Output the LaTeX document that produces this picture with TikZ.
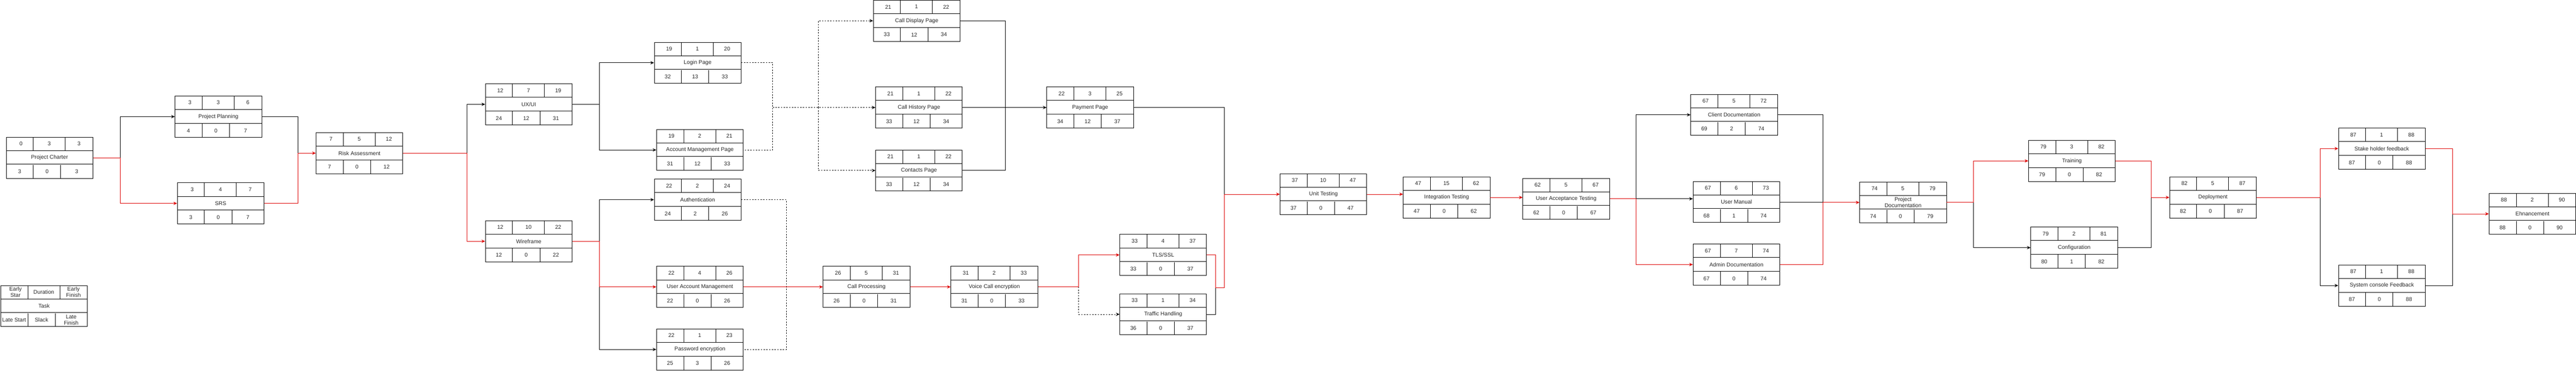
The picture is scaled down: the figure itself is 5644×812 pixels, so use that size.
\documentclass[tikz,border=0pt]{standalone}
\usepackage{fontspec}
\setmainfont{Liberation Sans}
\usetikzlibrary{calc,arrows.meta}

\definecolor{critred}{RGB}{221,0,0}

\tikzset{
  taskbox/.style={draw, line width=1pt, minimum width=190pt, minimum height=90pt, anchor=north west, inner sep=0pt},
  cell/.style={line width=1pt},
  num/.style={font=\fontsize{12}{14}\selectfont, text=black!85, align=center, inner sep=0pt},
  crit/.style={draw=critred, line width=1pt},
  plain/.style={draw=black, line width=1pt},
  lag/.style={draw=black, line width=1pt, dash pattern=on 3pt off 3pt},
  >={Stealth[length=8pt,width=7pt]}
}

% box: name, top-left, ES, duration, EF, task, LS, slack, LF
\newcommand{\pertbox}[9]{%
  \node[taskbox] (#1) at #2 {};
  \draw[cell] ($(#1.north west)+(0,30)$) -- ($(#1.north east)+(0,30)$);
  \draw[cell] ($(#1.north west)+(0,60)$) -- ($(#1.north east)+(0,60)$);
  \draw[cell] ($(#1.north west)+(60,0)$) -- ++(0,30);
  \draw[cell] ($(#1.north west)+(130,0)$) -- ++(0,30);
  \draw[cell] ($(#1.south west)+(60,0)$) -- ++(0,-30);
  \draw[cell] ($(#1.south west)+(120,0)$) -- ++(0,-30);
  \node[num] (#1-es) at ($(#1.north west)+(33,15)$) {#3};
  \node[num] (#1-du) at ($(#1.north west)+(95,15)$) {#4};
  \node[num] (#1-ef) at ($(#1.north west)+(160,15)$) {#5};
  \node[num] (#1-nm) at (#1.center) {#6};
  \node[num] (#1-ls) at ($(#1.south west)+(30,-15)$) {#7};
  \node[num] (#1-sl) at ($(#1.south west)+(90,-15)$) {#8};
  \node[num] (#1-lf) at ($(#1.south west)+(155,-15)$) {#9};
}

\begin{document}
\begin{tikzpicture}[x=1pt,y=-1pt]
\useasboundingbox (0,0) rectangle (5644,812);

\pertbox{key}{(1,625)}{Early\\Star}{Duration}{Early\\Finish}{Task}{Late Start}{Slack}{Late\\Finish}

\pertbox{pc}{(13,300)}{0}{3}{3}{Project Charter}{3}{0}{3}
\pertbox{pp}{(383,210)}{3}{3}{6}{Project Planning}{4}{0}{7}
\pertbox{srs}{(388,400)}{3}{4}{7}{SRS}{3}{0}{7}
\pertbox{ra}{(692,290)}{7}{5}{12}{Risk Assessment}{7}{0}{12}
\pertbox{ux}{(1063,183)}{12}{7}{19}{UX/UI}{24}{12}{31}
\pertbox{wf}{(1063,483)}{12}{10}{22}{Wireframe}{12}{0}{22}
\pertbox{lp}{(1433,92)}{19}{1}{20}{Login Page}{32}{13}{33}
\pertbox{amp}{(1438,283)}{19}{2}{21}{Account Management Page}{31}{12}{33}
\pertbox{auth}{(1433,392)}{22}{2}{24}{Authentication}{24}{2}{26}
\pertbox{uam}{(1438,583)}{22}{4}{26}{User Account Management}{22}{0}{26}
\pertbox{pe}{(1438,720)}{22}{1}{23}{Password encryption}{25}{3}{26}
\pertbox{cdp}{(1913,0)}{21}{1}{22}{Call Display Page}{33}{12}{34}
\pertbox{chp}{(1918,190)}{21}{1}{22}{Call History Page}{33}{12}{34}
\pertbox{cp}{(1918,328)}{21}{1}{22}{Contacts Page}{33}{12}{34}
\pertbox{pay}{(2293,190)}{22}{3}{25}{Payment Page}{34}{12}{37}
\pertbox{proc}{(1803,583)}{26}{5}{31}{Call Processing}{26}{0}{31}
\pertbox{vce}{(2083,583)}{31}{2}{33}{Voice Call encryption}{31}{0}{33}
\pertbox{tls}{(2453,513)}{33}{4}{37}{TLS/SSL}{33}{0}{37}
\pertbox{th}{(2453,643)}{33}{1}{34}{Traffic Handling}{36}{0}{37}
\pertbox{ut}{(2804,380)}{37}{10}{47}{Unit Testing}{37}{0}{47}
\pertbox{it}{(3074,387)}{47}{15}{62}{Integration Testing}{47}{0}{62}
\pertbox{uat}{(3336,390)}{62}{5}{67}{User Acceptance Testing}{62}{0}{67}
\pertbox{cd}{(3704,206)}{67}{5}{72}{Client Documentation}{69}{2}{74}
\pertbox{um}{(3709,397)}{67}{6}{73}{User Manual}{68}{1}{74}
\pertbox{ad}{(3709,534)}{67}{7}{74}{Admin Documentation}{67}{0}{74}
\pertbox{pd}{(4074,398)}{74}{5}{79}{Project\\Documentation}{74}{0}{79}
\pertbox{tr}{(4444,307)}{79}{3}{82}{Training}{79}{0}{82}
\pertbox{conf}{(4449,497)}{79}{2}{81}{Configuration}{80}{1}{82}
\pertbox{dep}{(4753,387)}{82}{5}{87}{Deployment}{82}{0}{87}
\pertbox{shf}{(5123,280)}{87}{1}{88}{Stake holder feedback}{87}{0}{88}
\pertbox{scf}{(5123,580)}{87}{1}{88}{System console Feedback}{87}{0}{88}
\pertbox{enh}{(5453,423)}{88}{2}{90}{Ehnancement}{88}{0}{90}

% forks
\coordinate (f1) at (263,0);
\coordinate (f2) at (653,0);
\coordinate (f3) at (1023,0);
\coordinate (f4) at (1313,0);
\coordinate (f5) at (1693,0);
\coordinate (f6) at (1793,0);
\coordinate (f7) at (1723,0);
\coordinate (f8) at (2203,0);
\coordinate (f9) at (2363,0);
\coordinate (m1) at (2663,630);
\coordinate (m2) at (2683,630);
\coordinate (f10) at (3584,0);
\coordinate (f11) at (3994,0);
\coordinate (f12) at (4324,0);
\coordinate (f13) at (4713,0);
\coordinate (f14) at (5083,0);
\coordinate (f15) at (5373,0);

\draw[plain,->] (pc.east -| f1) |- (pp.west);
\draw[crit,->] (pc.east) -- (pc.east -| f1) |- (srs.west);
\draw[plain] (pp.east) -| (f2 |- ra.west);
\draw[crit,->] (srs.east) -| (f2 |- ra.west) -- (ra.west);

\draw[plain,->] (f3 |- ra.east) |- (ux.west);
\draw[crit,->] (ra.east) -| (f3 |- wf.west) -- (wf.west);

\draw[plain] (ux.east) -- (ux.east -| f4);
\draw[plain,->] (ux.east -| f4) |- (lp.west);
\draw[plain,->] (ux.east -| f4) |- (amp.west);
\draw[plain,->] (wf.east -| f4) |- (auth.west);
\draw[plain,->] (wf.east -| f4) |- (pe.west);
\draw[crit,->] (wf.east) -| (f4 |- uam.west) -- (uam.west);

\draw[lag] (lp.east) -| (f5 |- amp.east) -- (amp.east);
\draw[lag,->] (f5 |- chp.west) -- (chp.west);
\draw[lag,->] (f6 |- chp.west) |- (cdp.west);
\draw[lag,->] (f6 |- chp.west) |- (cp.west);
\draw[lag] (auth.east) -| (f7 |- pe.east) -- (pe.east);

\draw[crit,->] (uam.east) -- (uam.east -| proc.west);
\draw[crit,->] (proc.east) -- (vce.west);

\draw[plain] (cdp.east) -| (f8 |- cp.east) -- (cp.east);
\draw[plain,->] (chp.east) -- (pay.west);

\draw[lag,->] (vce.east -| f9) |- (th.west);
\draw[crit,->] (vce.east) -| (f9 |- tls.west) -- (tls.west);
\draw[plain] (th.east) -| (m1);
\draw[plain] (pay.east) -| (m2 |- ut.west);
\draw[crit,->] (tls.east) -| (m1) -- (m2) |- (ut.west);

\draw[crit,->] (ut.east) -- (ut.east -| it.west);
\draw[crit,->] (it.east) -- (it.east -| uat.west);

\draw[plain,->] (uat.east -| f10) |- (cd.west);
\draw[plain,->] (uat.east -| f10) -- (uat.east -| um.west);
\draw[crit,->] (uat.east) -| (f10 |- ad.west) -- (ad.west);
\draw[plain] (cd.east) -| (f11 |- pd.west);
\draw[plain] (um.east) -- (um.east -| f11);
\draw[crit,->] (ad.east) -| (f11 |- pd.west) -- (pd.west);

\draw[plain,->] (pd.east -| f12) |- (conf.west);
\draw[crit,->] (pd.east) -| (f12 |- tr.west) -- (tr.west);
\draw[plain] (conf.east) -| (f13 |- dep.west);
\draw[crit,->] (tr.east) -| (f13 |- dep.west) -- (dep.west);

\draw[plain,->] (dep.east -| f14) |- (scf.west);
\draw[crit,->] (dep.east) -| (f14 |- shf.west) -- (shf.west);
\draw[plain] (scf.east) -| (f15 |- enh.west);
\draw[crit,->] (shf.east) -| (f15 |- enh.west) -- (enh.west);
\end{tikzpicture}
\end{document}
